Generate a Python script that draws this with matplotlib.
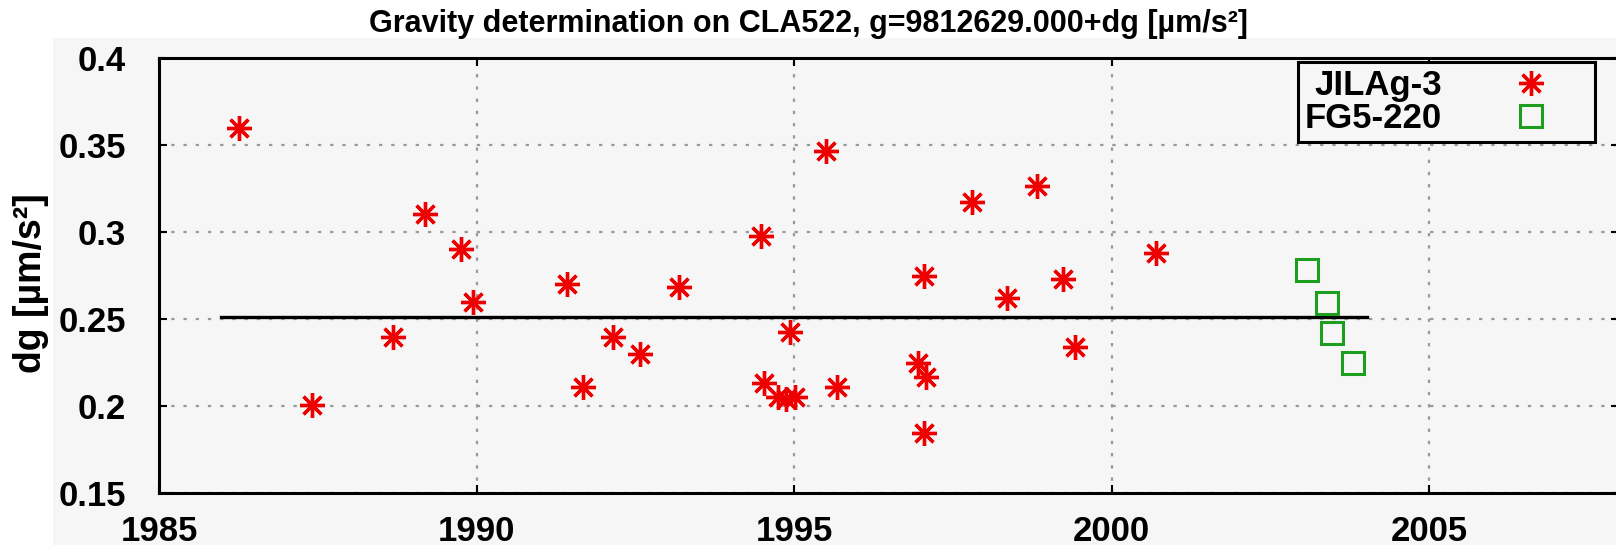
import matplotlib
matplotlib.use("Agg")
import matplotlib.pyplot as plt
from matplotlib.patches import Rectangle

plt.rcParams['font.family'] = ['Liberation Sans', 'DejaVu Sans']
plt.rcParams['font.weight'] = 'bold'

# ---- data ----
jila_years = [1986.26, 1987.41, 1988.68, 1989.19, 1989.76, 1989.94, 1991.43, 1991.68,
              1992.15, 1992.57, 1993.19, 1994.48, 1994.53, 1994.75, 1994.88, 1995.02,
              1994.94, 1995.50, 1995.68, 1996.95, 1997.05, 1997.08, 1997.05, 1997.80,
              1998.35, 1998.83, 1999.23, 1999.43, 2000.70]
jila_dg = [0.360, 0.2006, 0.2397, 0.3103, 0.2902, 0.2598, 0.2701, 0.2109,
           0.2397, 0.2299, 0.2684, 0.2977, 0.2132, 0.2052, 0.2040, 0.2050,
           0.2425, 0.3466, 0.2109, 0.2250, 0.2747, 0.2167, 0.1845, 0.3172,
           0.2621, 0.3264, 0.2730, 0.2339, 0.2879]
fg5_years = [2003.08, 2003.39, 2003.47, 2003.80]
fg5_dg = [0.2782, 0.2592, 0.2420, 0.2247]
mean_years = [1985.98, 2004.02]
mean_dg = [0.251, 0.251]

title = "Gravity determination on CLA522, g=9812629.000+dg [µm/s²]"
ylabel = "dg [µm/s²]"
xticks = [1985, 1990, 1995, 2000, 2005]
yticks = [0.15, 0.2, 0.25, 0.3, 0.35, 0.4]
ytick_labels = ['0.15', '0.2', '0.25', '0.3', '0.35', '0.4']

W, H = 1616, 545
fig = plt.figure(figsize=(W / 100, H / 100), dpi=100)
fig.patch.set_facecolor('white')
bg = '#f6f6f6'
fig.patches.append(Rectangle((53 / W, 0), 1, 1 - 38 / H, transform=fig.transFigure,
                             facecolor=bg, edgecolor='none', zorder=-10))

L, R, T, B = 159, 1619.5, 58, 493
ax = fig.add_axes([L / W, 1 - B / H, (R - L) / W, (B - T) / H])
ax.set_facecolor(bg)

ax.plot(mean_years, mean_dg, color='black', lw=2.4, zorder=3)
ax.plot(jila_years, jila_dg, linestyle='none', marker=(8, 2, 0), markersize=18,
        color='#ee0000', mec='#ee0000', mew=2.4, label='JILAg-3', zorder=4)
ax.plot(fg5_years, fg5_dg, linestyle='none', marker='s', markersize=16,
        mfc='none', mec='#1e9e1e', mew=2.2, label='FG5-220', zorder=4)

ax.set_xlim(1985, 2008)
ax.set_ylim(0.15, 0.4)
ax.set_xticks(xticks)
ax.set_yticks(yticks)
ax.set_yticklabels(ytick_labels)
ax.tick_params(axis='both', direction='in', length=6, width=1.5, labelsize=25,
               top=True, right=True, colors='black')
ax.tick_params(axis='x', pad=16)
ax.tick_params(axis='y', pad=24)
for lab in ax.get_xticklabels() + ax.get_yticklabels():
    lab.set_fontweight('bold')
ax.grid(True, linestyle=(0, (1.5, 4)), color='#999999', lw=1.6)
ax.set_axisbelow(True)
for s in ax.spines.values():
    s.set_linewidth(2.2)
    s.set_color('black')

fig.text(809 / W, 1 - 24 / H, title, ha='center', va='center', fontsize=22,
         fontweight='bold')
fig.text(31 / W, 1 - 283 / H, ylabel, ha='center', va='center', rotation=90,
         fontsize=27, fontweight='bold')

leg = ax.legend(loc='upper right', bbox_to_anchor=((1595 - L) / (R - L), 1 - (62 - T) / (B - T)),
                fontsize=25, frameon=True, fancybox=False, markerfirst=False,
                borderpad=0.2, handletextpad=0.9, labelspacing=0.0, borderaxespad=0,
                handlelength=3.3)
leg.get_frame().set_edgecolor('black')
leg.get_frame().set_linewidth(2.2)
leg.get_frame().set_facecolor(bg)
leg.get_frame().set_alpha(1)
for t in leg.get_texts():
    t.set_fontweight('bold')

fig.savefig('out.png', dpi=100)
